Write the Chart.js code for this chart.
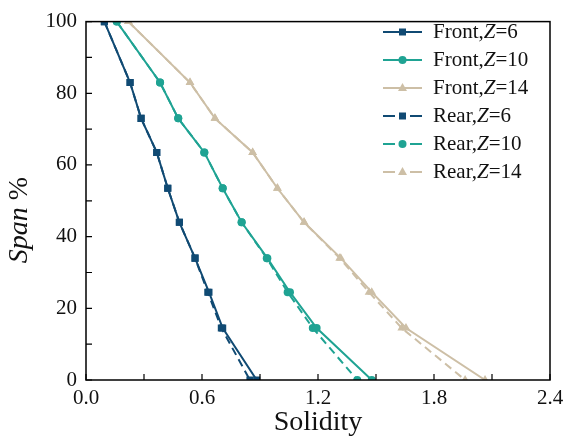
<!DOCTYPE html>
<html>
<head>
<meta charset="utf-8">
<script src="https://cdn.jsdelivr.net/npm/chart.js@4/dist/chart.umd.min.js"></script>
<style>
  html, body { margin: 0; padding: 0; background: #fff; }
  #wrap { width: 571px; height: 441px; }
</style>
</head>
<body>
<div id="wrap"><canvas id="chart" width="571" height="441"></canvas></div>
<script>
const serif = '"Liberation Serif", "Times New Roman", serif';

// span levels shared by every curve
const spanLevels = [100, 83, 73, 63.5, 53.5, 44, 34, 24.5, 14.5, 0];

// solidity
const frontZ6 = [0.095, 0.228, 0.285, 0.366, 0.423, 0.483, 0.564, 0.636, 0.707, 0.883];
const frontZ10 = [0.159, 0.383, 0.477, 0.612, 0.707, 0.805, 0.938, 1.055, 1.193, 1.478];
const frontZ14 = [0.219, 0.538, 0.667, 0.862, 0.990, 1.128, 1.318, 1.478, 1.655, 2.064];
const rearZ6 = [0.095, 0.228, 0.285, 0.366, 0.423, 0.483, 0.564, 0.630, 0.700, 0.848];
const rearZ10 = [0.159, 0.383, 0.477, 0.612, 0.707, 0.805, 0.935, 1.043, 1.173, 1.403];
const rearZ14 = [0.219, 0.538, 0.667, 0.862, 0.990, 1.128, 1.312, 1.464, 1.633, 1.961];

const xTicks = [0, 0.6, 1.2, 1.8, 2.4];
const xMinorTicks = [0.3, 0.9, 1.5, 2.1];
const yTicks = [0, 20, 40, 60, 80, 100];
const yMinorTicks = [10, 30, 50, 70, 90];

const navy = '#104a73';
const teal = '#1fa393';
const tan = '#cdbfa6';

const series = [
    { side: 'Front', z: 6, values: frontZ6, color: navy, marker: 'rect', dashed: false },
    { side: 'Front', z: 10, values: frontZ10, color: teal, marker: 'circle', dashed: false },
    { side: 'Front', z: 14, values: frontZ14, color: tan, marker: 'triangle', dashed: false },
    { side: 'Rear', z: 6, values: rearZ6, color: navy, marker: 'rect', dashed: true },
    { side: 'Rear', z: 10, values: rearZ10, color: teal, marker: 'circle', dashed: true },
    { side: 'Rear', z: 14, values: rearZ14, color: tan, marker: 'triangle', dashed: true },
];

function markerRadius(style) {
    if (style === 'rect') return 5;
    if (style === 'circle') return 4;
    return 5;
}

const datasets = series.map(s => ({
    label: s.side + ',Z=' + s.z,
    data: s.values.map((v, i) => ({ x: v, y: spanLevels[i] })),
    borderColor: s.color,
    backgroundColor: s.color,
    borderWidth: 2,
    borderDash: s.dashed ? [8, 5] : [],
    pointStyle: s.marker,
    pointRadius: markerRadius(s.marker),
    pointBorderWidth: 0,
    tension: 0,
}));

// box, inward ticks, legend and the y title
const decorations = {
    id: 'decorations',
    afterDraw(chart) {
        const ctx = chart.ctx;
        const area = chart.chartArea;
        const xs = chart.scales.x;
        const ys = chart.scales.y;

        ctx.save();
        ctx.strokeStyle = '#000';
        ctx.lineWidth = 1.5;
        ctx.strokeRect(area.left, area.top, area.right - area.left, area.bottom - area.top);

        ctx.lineWidth = 1.2;
        ctx.beginPath();
        xTicks.concat(xMinorTicks).forEach(v => {
            const px = xs.getPixelForValue(v);
            ctx.moveTo(px, area.bottom);
            ctx.lineTo(px, area.bottom - 6);
        });
        yTicks.concat(yMinorTicks).forEach(v => {
            const py = ys.getPixelForValue(v);
            ctx.moveTo(area.left, py);
            ctx.lineTo(area.left + 6, py);
        });
        ctx.stroke();

        // legend
        const rowTop = 32, rowGap = 28, lineX0 = 383, lineX1 = 422, textX = 433;
        ctx.textBaseline = 'middle';
        series.forEach((s, i) => {
            const y = rowTop + i * rowGap;
            ctx.strokeStyle = s.color;
            ctx.fillStyle = s.color;
            ctx.lineWidth = 2;
            ctx.setLineDash(s.dashed ? [8, 5] : []);
            ctx.beginPath();
            if (s.dashed) {
                ctx.moveTo(lineX0, y); ctx.lineTo(lineX0 + 12, y);
                ctx.moveTo(lineX1 - 12, y); ctx.lineTo(lineX1, y);
            } else {
                ctx.moveTo(lineX0, y); ctx.lineTo(lineX1, y);
            }
            ctx.setLineDash([]);
            ctx.stroke();
            const cx = (lineX0 + lineX1) / 2;
            ctx.beginPath();
            if (s.marker === 'rect') {
                ctx.rect(cx - 3.5, y - 3.5, 7, 7);
            } else if (s.marker === 'circle') {
                ctx.arc(cx, y, 4, 0, Math.PI * 2);
            } else {
                ctx.moveTo(cx, y - 5);
                ctx.lineTo(cx + 4.5, y + 3);
                ctx.lineTo(cx - 4.5, y + 3);
                ctx.closePath();
            }
            ctx.fill();

            ctx.fillStyle = '#111';
            let tx = textX;
            const parts = [[s.side + ',', ''], ['Z', 'italic '], ['=' + s.z, '']];
            parts.forEach(([t, st]) => {
                ctx.font = st + '21px ' + serif;
                ctx.fillText(t, tx, y);
                tx += ctx.measureText(t).width;
            });
        });

        // y title: italic "Span" and upright "%"
        ctx.fillStyle = '#111';
        ctx.textBaseline = 'alphabetic';
        ctx.translate(27, 220);
        ctx.rotate(-Math.PI / 2);
        ctx.font = 'italic 28px ' + serif;
        const w1 = ctx.measureText('Span').width;
        ctx.font = '28px ' + serif;
        const w2 = ctx.measureText(' %').width;
        let start = -(w1 + w2) / 2;
        ctx.font = 'italic 28px ' + serif;
        ctx.fillText('Span', start, 0);
        ctx.font = '28px ' + serif;
        ctx.fillText(' %', start + w1, 0);
        ctx.restore();
    }
};

new Chart(document.getElementById('chart'), {
    type: 'line',
    data: { datasets },
    options: {
        responsive: false,
        animation: false,
        layout: { padding: { top: 16, right: 21, left: 0, bottom: 0 } },
        plugins: { legend: { display: false }, tooltip: { enabled: false } },
        scales: {
            x: {
                type: 'linear',
                min: 0,
                max: 2.4,
                afterBuildTicks: scale => { scale.ticks = xTicks.map(v => ({ value: v })); },
                afterFit: scale => { scale.height = 61; },
                grid: { display: false, drawTicks: false },
                border: { display: false },
                ticks: {
                    color: '#111',
                    padding: 6,
                    maxRotation: 0,
                    font: { family: serif, size: 21 },
                    callback: v => Number(v).toFixed(1),
                },
                title: {
                    display: true,
                    text: 'Solidity',
                    color: '#111',
                    padding: { top: 0, bottom: 2 },
                    font: { family: serif, size: 28 },
                },
            },
            y: {
                type: 'linear',
                min: 0,
                max: 100,
                afterBuildTicks: scale => { scale.ticks = yTicks.map(v => ({ value: v })); },
                afterFit: scale => { scale.width = 86; },
                grid: { display: false, drawTicks: false },
                border: { display: false },
                ticks: {
                    color: '#111',
                    padding: 9,
                    font: { family: serif, size: 21 },
                },
            },
        },
    },
    plugins: [decorations],
});
</script>
</body>
</html>
